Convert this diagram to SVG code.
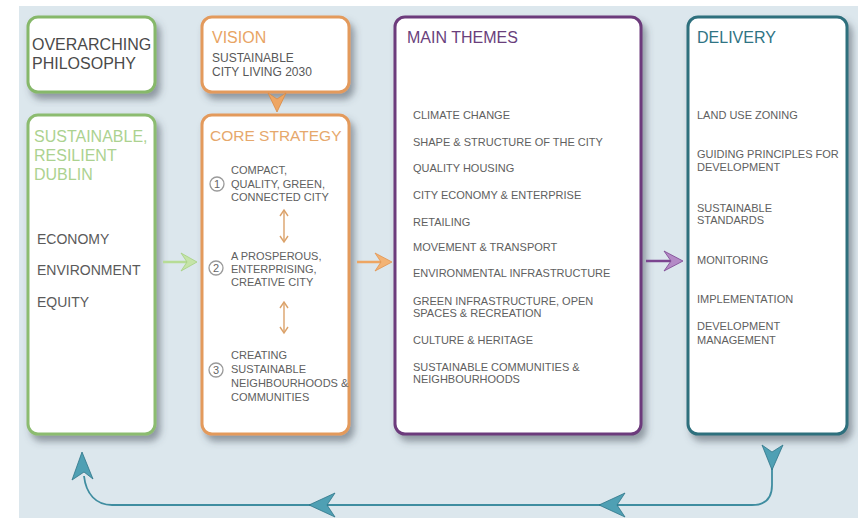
<svg xmlns="http://www.w3.org/2000/svg" width="858" height="518" viewBox="0 0 858 518">
<defs>
<style>
text{font-family:"Liberation Sans",Arial,sans-serif;}
.box{fill:#ffffff;stroke-width:3;filter:url(#sh);}
.h{font-size:16px;}
.t{font-size:11px;fill:#606060;}
.e{font-size:14px;fill:#5a5a5a;}
.num{fill:#fff;stroke:#9a9a9a;stroke-width:1.3;}
.nt{font-size:11px;fill:#666;text-anchor:middle;}
.teal{fill:none;stroke:#3f8da0;stroke-width:1.8;}
.tealh{fill:#4fa0b4;stroke:#2f7588;stroke-width:0.8;}
.dbl{fill:none;stroke:#dba26a;stroke-width:1.4;}
</style>
<filter id="sh" x="-10%" y="-10%" width="130%" height="130%">
<feDropShadow dx="4" dy="6" stdDeviation="3.5" flood-color="#404a55" flood-opacity="0.5"/>
</filter>
<linearGradient id="gg" x1="0" y1="0" x2="0" y2="1"><stop offset="0.7" stop-color="#fff"/><stop offset="1" stop-color="#f4faee"/></linearGradient>
<linearGradient id="og" x1="0" y1="0" x2="0" y2="1"><stop offset="0.7" stop-color="#fff"/><stop offset="1" stop-color="#fdf6ef"/></linearGradient>
<linearGradient id="pg" x1="0" y1="0" x2="0" y2="1"><stop offset="0.7" stop-color="#fff"/><stop offset="1" stop-color="#fcf5fd"/></linearGradient>
<linearGradient id="tg" x1="0" y1="0" x2="0" y2="1"><stop offset="0.7" stop-color="#fff"/><stop offset="1" stop-color="#f0fafc"/></linearGradient>
</defs>
<rect x="0" y="0" width="858" height="518" fill="#ffffff"/>
<rect x="19" y="6" width="839" height="512" fill="#dce7ed"/>

<g id="philosophy">
<rect class="box" x="28" y="17" width="127" height="75" rx="10" stroke="#86b86a" fill="url(#gg)"/>
<text class="h" x="32" y="50" fill="#4a4a4a">OVERARCHING</text>
<text class="h" x="32" y="69" fill="#4a4a4a">PHILOSOPHY</text>
</g>

<g id="dublin">
<rect class="box" x="28" y="115" width="127" height="319" rx="10" stroke="#8cbc70" fill="url(#gg)"/>
<text class="h" x="34" y="142" fill="#acd290">SUSTAINABLE,</text>
<text class="h" x="34" y="161" fill="#acd290">RESILIENT</text>
<text class="h" x="34" y="180" fill="#acd290">DUBLIN</text>
<text class="e" x="37" y="244">ECONOMY</text>
<text class="e" x="37" y="275">ENVIRONMENT</text>
<text class="e" x="37" y="307">EQUITY</text>
</g>

<g id="vision">
<rect class="box" x="202" y="17" width="147" height="75" rx="10" stroke="#e39a5c" fill="url(#og)"/>
<text class="h" x="212" y="43" fill="#e8a464">VISION</text>
<text x="212" y="62" font-size="12" fill="#585858">SUSTAINABLE</text>
<text x="212" y="76" font-size="12" fill="#585858">CITY LIVING 2030</text>
</g>

<g id="core">
<rect class="box" x="202" y="115" width="147" height="319" rx="10" stroke="#e39a5c" fill="url(#og)"/>
<text x="210" y="141" font-size="15.5" fill="#e6a86c">CORE STRATEGY</text>
<circle class="num" cx="217" cy="184" r="7"/>
<text class="nt" x="217" y="188">1</text>
<text class="t" x="231" y="174">COMPACT,</text>
<text class="t" x="231" y="188">QUALITY, GREEN,</text>
<text class="t" x="231" y="201">CONNECTED CITY</text>
<circle class="num" cx="216" cy="268" r="7"/>
<text class="nt" x="216" y="272">2</text>
<text class="t" x="231" y="260">A PROSPEROUS,</text>
<text class="t" x="231" y="273">ENTERPRISING,</text>
<text class="t" x="231" y="286">CREATIVE CITY</text>
<circle class="num" cx="216" cy="370" r="7"/>
<text class="nt" x="216" y="374">3</text>
<text class="t" x="231" y="359">CREATING</text>
<text class="t" x="231" y="373">SUSTAINABLE</text>
<text class="t" x="231" y="387">NEIGHBOURHOODS &amp;</text>
<text class="t" x="231" y="401">COMMUNITIES</text>
</g>

<g id="themes">
<rect class="box" x="395" y="17" width="246" height="417" rx="10" stroke="#6c3a7c" fill="url(#pg)"/>
<text class="h" x="407" y="43" fill="#6a3f7c">MAIN THEMES</text>
<text class="t" x="413" y="119">CLIMATE CHANGE</text>
<text class="t" x="413" y="146">SHAPE &amp; STRUCTURE OF THE CITY</text>
<text class="t" x="413" y="172">QUALITY HOUSING</text>
<text class="t" x="413" y="199">CITY ECONOMY &amp; ENTERPRISE</text>
<text class="t" x="413" y="226">RETAILING</text>
<text class="t" x="413" y="251">MOVEMENT &amp; TRANSPORT</text>
<text class="t" x="413" y="277">ENVIRONMENTAL INFRASTRUCTURE</text>
<text class="t" x="413" y="305">GREEN INFRASTRUCTURE, OPEN</text>
<text class="t" x="413" y="317">SPACES &amp; RECREATION</text>
<text class="t" x="413" y="344">CULTURE &amp; HERITAGE</text>
<text class="t" x="413" y="371">SUSTAINABLE COMMUNITIES &amp;</text>
<text class="t" x="413" y="383">NEIGHBOURHOODS</text>
</g>

<g id="delivery">
<rect class="box" x="688" y="17" width="159" height="417" rx="10" stroke="#2e6f7d" fill="url(#tg)"/>
<text class="h" x="697" y="43" fill="#2f7484">DELIVERY</text>
<text class="t" x="697" y="119">LAND USE ZONING</text>
<text class="t" x="697" y="158">GUIDING PRINCIPLES FOR</text>
<text class="t" x="697" y="171">DEVELOPMENT</text>
<text class="t" x="697" y="212">SUSTAINABLE</text>
<text class="t" x="697" y="224">STANDARDS</text>
<text class="t" x="697" y="264">MONITORING</text>
<text class="t" x="697" y="303">IMPLEMENTATION</text>
<text class="t" x="697" y="330">DEVELOPMENT</text>
<text class="t" x="697" y="344">MANAGEMENT</text>
</g>

<g id="connectors">
<path d="M277,112 L268,93 L277,99 L286,93 Z" fill="#eea663" stroke="#d98a45" stroke-width="0.8"/>
<g>
<path class="dbl" d="M284,211 L284,241"/>
<path class="dbl" d="M280,216 L284,210 L288,216 M280,236 L284,242 L288,236"/>
<path class="dbl" d="M284,303 L284,332"/>
<path class="dbl" d="M280,308 L284,302 L288,308 M280,327 L284,333 L288,327"/>
</g>
<path d="M163,262 L190,262" stroke="#b7dc96" stroke-width="2.5" fill="none"/>
<path d="M197,262 L181,253 L187,262 L181,271 Z" fill="#c5e4a8" stroke="#a6d082" stroke-width="0.8"/>
<path d="M357,262 L385,262" stroke="#eea663" stroke-width="2.5" fill="none"/>
<path d="M392,262 L375,253 L381,262 L375,271 Z" fill="#f3b374" stroke="#e29450" stroke-width="0.8"/>
<path d="M646,261 L675,261" stroke="#7b4590" stroke-width="2.5" fill="none"/>
<path d="M683,261 L664,251 L671,261 L664,271 Z" fill="#b48ac6" stroke="#7b4590" stroke-width="0.8"/>
<path class="teal" d="M772,458 L772,485 Q772,505 752,505 L112,505 C96,505 86,494 84,476"/>
<path class="tealh" d="M772,470 L762,445 L772,452 L783,445 Z"/>
<path class="tealh" d="M599,505 L625,493 L617,505 L625,517 Z"/>
<path class="tealh" d="M309,505 L335,493 L327,505 L335,517 Z"/>
<path class="tealh" d="M82,452 L93,479 L84,472 L72,480 Z"/>
</g>
</svg>
